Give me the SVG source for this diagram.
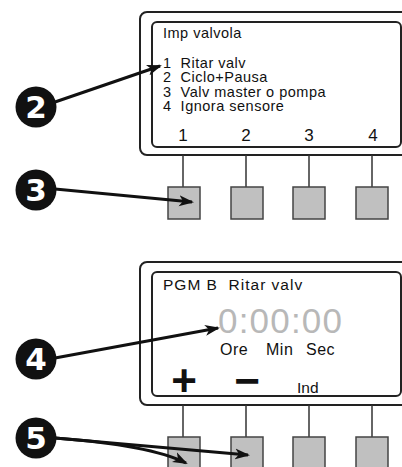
<svg xmlns="http://www.w3.org/2000/svg" width="402" height="467" viewBox="0 0 402 467">
<style>
.outer{fill:#fff;stroke:#222;stroke-width:2}
.inner{fill:#fff;stroke:#222;stroke-width:2}
.stem{stroke:#333;stroke-width:1.5}
.btn{fill:#c0c0c0;stroke:#444;stroke-width:1.5}
.t{font-family:"Liberation Sans",Arial,sans-serif;fill:#111}
.badge circle{fill:#111}
.badge text{font-family:"DejaVu Sans","Liberation Sans",sans-serif;font-weight:bold;font-size:31px;fill:#fff;text-anchor:middle}
.arr{fill:none;stroke:#111;stroke-width:3;marker-end:url(#ah)}
</style>
<defs>
<marker id="ah" markerUnits="userSpaceOnUse" markerWidth="16" markerHeight="12" refX="13" refY="6" orient="auto" viewBox="0 0 16 12">
<path d="M0,0.5 L15,6 L0,11.5 L4,6 z" fill="#111"/>
</marker>
</defs>

<g id="panel-top">
<rect class="outer" x="140" y="12" width="300" height="143" rx="7"/>
<rect class="inner" x="152" y="22" width="249" height="125" rx="5"/>
<text class="t" x="163" y="38" font-size="14.5" letter-spacing="0.5">Imp valvola</text>
<text class="t" x="163" y="67.5" font-size="14.5" letter-spacing="0.5" xml:space="preserve">1  Ritar valv</text>
<text class="t" x="163" y="82" font-size="14.5" letter-spacing="0.5" xml:space="preserve">2  Ciclo+Pausa</text>
<text class="t" x="163" y="96.5" font-size="14.5" letter-spacing="0.5" xml:space="preserve">3  Valv master o pompa</text>
<text class="t" x="163" y="111" font-size="14.5" letter-spacing="0.5" xml:space="preserve">4  Ignora sensore</text>
<g font-size="17" text-anchor="middle">
<text class="t" x="183" y="141">1</text>
<text class="t" x="246" y="141">2</text>
<text class="t" x="309" y="141">3</text>
<text class="t" x="373" y="141">4</text>
</g>
</g>

<g id="buttons-top">
<line class="stem" x1="183" y1="155" x2="183" y2="187"/>
<line class="stem" x1="246" y1="155" x2="246" y2="187"/>
<line class="stem" x1="309" y1="155" x2="309" y2="187"/>
<line class="stem" x1="372" y1="155" x2="372" y2="187"/>
<rect class="btn" x="168" y="187" width="32" height="32"/>
<rect class="btn" x="231" y="187" width="32" height="32"/>
<rect class="btn" x="293" y="187" width="32" height="32"/>
<rect class="btn" x="356" y="187" width="32" height="32"/>
</g>

<g id="panel-bottom">
<rect class="outer" x="140" y="262" width="300" height="143" rx="7"/>
<rect class="inner" x="152" y="272" width="249" height="124" rx="5"/>
<text class="t" x="163" y="289.5" font-size="15.5" letter-spacing="1" xml:space="preserve">PGM B  Ritar valv</text>
<text x="218" y="333" font-family="Liberation Sans,Arial,sans-serif" font-size="35" letter-spacing="1.2" fill="#b8b8b8">0:00:00</text>
<text class="t" x="220" y="355" font-size="16" letter-spacing="0.5">Ore</text>
<text class="t" x="266" y="355" font-size="16" letter-spacing="0.5">Min</text>
<text class="t" x="306" y="355" font-size="16" letter-spacing="0.5">Sec</text>
<text class="t" x="184" y="396" font-size="44" font-weight="bold" text-anchor="middle">+</text>
<text class="t" x="247" y="396" font-size="44" font-weight="bold" text-anchor="middle">−</text>
<text class="t" x="297" y="393" font-size="15.5">Ind</text>
</g>

<g id="buttons-bottom">
<line class="stem" x1="183" y1="405" x2="183" y2="437"/>
<line class="stem" x1="246" y1="405" x2="246" y2="437"/>
<line class="stem" x1="309" y1="405" x2="309" y2="437"/>
<line class="stem" x1="372" y1="405" x2="372" y2="437"/>
<rect class="btn" x="168" y="437" width="32" height="40"/>
<rect class="btn" x="231" y="437" width="32" height="40"/>
<rect class="btn" x="293" y="437" width="32" height="40"/>
<rect class="btn" x="356" y="437" width="32" height="40"/>
</g>

<g id="connectors">
<path class="arr" d="M55,102 L160,66"/>
<path class="arr" d="M55,189 L192,202"/>
<path class="arr" d="M55,358 L218,328"/>
<path class="arr" d="M55,438 L248,455"/>
<path class="arr" d="M55,438 Q150,445 186,463"/>
</g>

<g id="badge-2" class="badge"><circle cx="36" cy="107" r="20.5"/><text x="36" y="118">2</text></g>
<g id="badge-3" class="badge"><circle cx="36" cy="190" r="20.5"/><text x="36" y="201">3</text></g>
<g id="badge-4" class="badge"><circle cx="36" cy="359" r="20.5"/><text x="36" y="370">4</text></g>
<g id="badge-5" class="badge"><circle cx="36" cy="438" r="20.5"/><text x="36" y="449">5</text></g>
</svg>
